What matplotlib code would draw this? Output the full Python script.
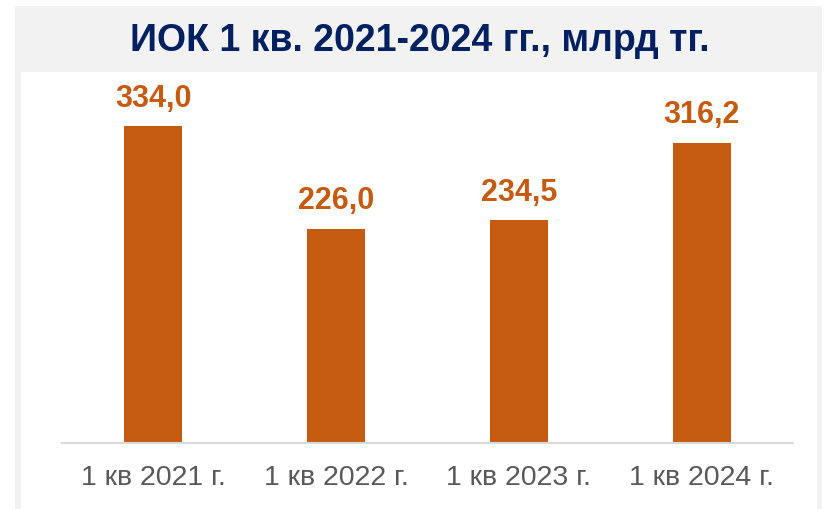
import matplotlib
matplotlib.use('Agg')
from matplotlib import pyplot as plt
from matplotlib.patches import Rectangle

categories = ['1 кв 2021 г.', '1 кв 2022 г.', '1 кв 2023 г.', '1 кв 2024 г.']
values = [334.0, 226.0, 234.5, 316.2]
value_labels = ['334,0', '226,0', '234,5', '316,2']
title = 'ИОК 1 кв. 2021-2024 гг., млрд тг.'

bar_color = '#C55A11'
title_color = '#002060'
plt.rcParams['font.family'] = ['Liberation Sans', 'DejaVu Sans']

W, H = 839, 509
fig = plt.figure(figsize=(W / 100, H / 100), dpi=100)
fig.patch.set_facecolor('white')

# серая подложка и белая область графика
fig.patches.append(Rectangle((15 / W, 0), (822 - 15) / W, (509 - 6) / H,
                             transform=fig.transFigure, facecolor='#f2f2f2',
                             edgecolor='none', zorder=-2))
fig.patches.append(Rectangle((21 / W, 0), (817 - 21) / W, (509 - 72) / H,
                             transform=fig.transFigure, facecolor='white',
                             edgecolor='none', zorder=-1))

ax = fig.add_axes([62 / W, (H - 443) / H, (793 - 62) / W, (443 - 72) / H])
ax.set_facecolor('none')

x = range(len(categories))
ax.bar(x, values, width=0.317, color=bar_color, zorder=2)
for xi, v, lab in zip(x, values, value_labels):
    ax.annotate(lab, (xi, v), xytext=(0, 9), textcoords='offset points',
                ha='center', va='bottom', fontsize=22, fontweight='bold',
                color=bar_color)

ax.set_xlim(-0.5, 3.5)
ax.set_ylim(0, 391)
ax.set_xticks(list(x))
ax.set_xticklabels(categories, fontsize=20.5, color='#595959')
ax.tick_params(axis='x', length=0, pad=16)
ax.set_yticks([])
for s in ['top', 'right', 'left']:
    ax.spines[s].set_visible(False)
ax.spines['bottom'].set_color('#d9d9d9')
ax.spines['bottom'].set_linewidth(1.5)

fig.text(0.5, (H - 41) / H, title, ha='center', va='center', fontsize=27,
         fontweight='bold', color=title_color)

fig.savefig('out.png', dpi=100)
